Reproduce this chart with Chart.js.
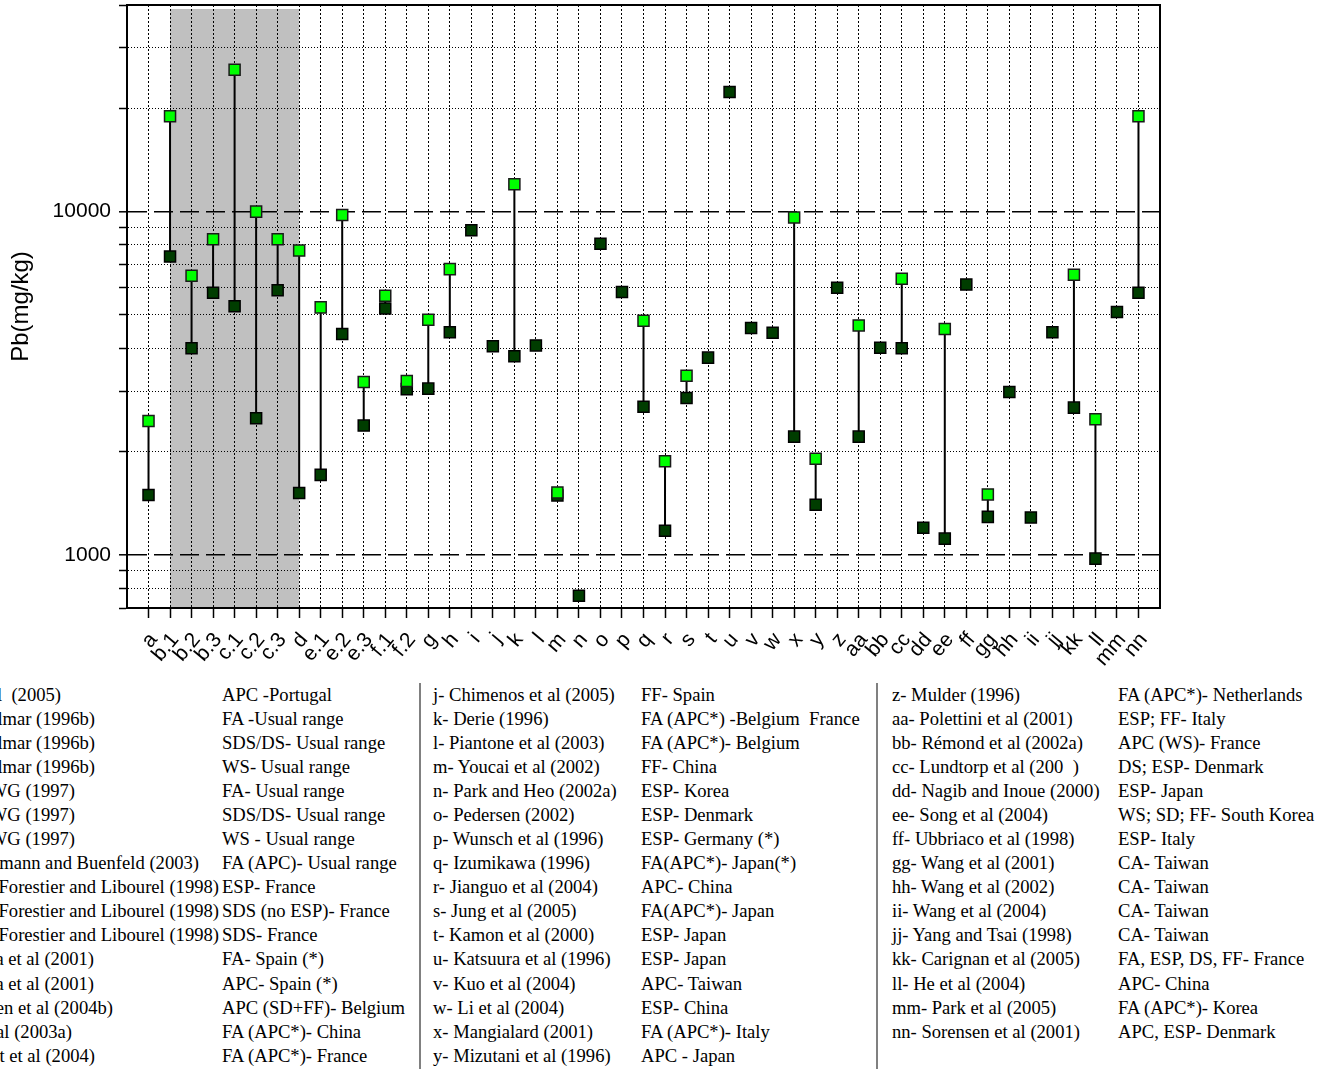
<!DOCTYPE html>
<html><head><meta charset="utf-8">
<script src="https://cdn.jsdelivr.net/npm/chart.js@4.4.1/dist/chart.umd.min.js"></script>
<style>
html,body{margin:0;padding:0;background:#fff;width:1332px;height:1069px;overflow:hidden;}
#wrap{position:relative;width:1332px;height:1069px;overflow:hidden;}
canvas{position:absolute;left:0;top:0;}
.t{position:absolute;font-family:'Liberation Serif','Times New Roman',serif;font-size:18.6px;line-height:24.07px;white-space:pre;color:#000;}
.sep{position:absolute;width:2px;background:#808080;top:683px;height:386px;}
</style></head><body><div id="wrap"><canvas id="c" width="1332" height="680"></canvas></div>
<script>
// ---- data ----
const categories = ['a','b.1','b.2','b.3','c.1','c.2','c.3','d','e.1','e.2','e.3','f.1','f.2','g','h','i','j','k','l','m','n','o','p','q','r','s','t','u','v','w','x','y','z','aa','bb','cc','dd','ee','ff','gg','hh','ii','jj','kk','ll','mm','nn'];
const lowValues = [1495,7400,4000,5800,5300,2500,5900,1515,1710,4400,2380,5220,3040,3050,4450,8820,4055,3790,4075,1490,760,8060,5830,2700,1175,2865,3755,22300,4580,4440,2210,1400,6000,2210,4015,4000,1200,1115,6135,1290,2980,1285,4450,2685,975,5100,5800];
const highValues = [2455,18960,6500,8310,25900,10000,8310,7700,5260,9780,3190,5690,3210,4840,6800,null,null,12010,null,1520,null,null,null,4810,1875,3325,null,null,null,null,9620,1905,null,4660,null,6375,null,4550,null,1500,null,null,null,6545,2485,null,18950];
const yTickValues = [700,800,900,1000,2000,3000,4000,5000,6000,7000,8000,9000,10000,20000,30000,40000];
const yLabelValues = [1000,10000];
const shadedFrom = 'b.1', shadedTo = 'd';
const yTitle = 'Pb(mg/kg)';

const refCol1 = ['a- Quina et al  (2005)','b.1- Hjelmar (1996b)','b.2- Hjelmar (1996b)','b.3- Hjelmar (1996b)','c.1- IAWG (1997)','c.2- IAWG (1997)','c.3- IAWG (1997)','d- Stegemann and Buenfeld (2003)','e.1- Le Forestier and Libourel (1998)','e.2- Le Forestier and Libourel (1998)','e.3- Le Forestier and Libourel (1998)','f.1- Alba et al (2001)','f.2- Alba et al (2001)','g- Van Gerven et al (2004b)','al (2003a)','i- Aubert et al (2004)'];
const typeCol1 = ['APC -Portugal','FA -Usual range','SDS/DS- Usual range','WS- Usual range','FA- Usual range','SDS/DS- Usual range','WS - Usual range','FA (APC)- Usual range','ESP- France','SDS (no ESP)- France','SDS- France','FA- Spain (*)','APC- Spain (*)','APC (SD+FF)- Belgium','FA (APC*)- China','FA (APC*)- France'];
const refCol2 = ['j- Chimenos et al (2005)','k- Derie (1996)','l- Piantone et al (2003)','m- Youcai et al (2002)','n- Park and Heo (2002a)','o- Pedersen (2002)','p- Wunsch et al (1996)','q- Izumikawa (1996)','r- Jianguo et al (2004)','s- Jung et al (2005)','t- Kamon et al (2000)','u- Katsuura et al (1996)','v- Kuo et al (2004)','w- Li et al (2004)','x- Mangialard (2001)','y- Mizutani et al (1996)'];
const typeCol2 = ['FF- Spain','FA (APC*) -Belgium  France','FA (APC*)- Belgium','FF- China','ESP- Korea','ESP- Denmark','ESP- Germany (*)','FA(APC*)- Japan(*)','APC- China','FA(APC*)- Japan','ESP- Japan','ESP- Japan','APC- Taiwan','ESP- China','FA (APC*)- Italy','APC - Japan'];
const refCol3 = ['z- Mulder (1996)','aa- Polettini et al (2001)','bb- Rémond et al (2002a)','cc- Lundtorp et al (200  )','dd- Nagib and Inoue (2000)','ee- Song et al (2004)','ff- Ubbriaco et al (1998)','gg- Wang et al (2001)','hh- Wang et al (2002)','ii- Wang et al (2004)','jj- Yang and Tsai (1998)','kk- Carignan et al (2005)','ll- He et al (2004)','mm- Park et al (2005)','nn- Sorensen et al (2001)'];
const typeCol3 = ['FA (APC*)- Netherlands','ESP; FF- Italy','APC (WS)- France','DS; ESP- Denmark','ESP- Japan','WS; SD; FF- South Korea','ESP- Italy','CA- Taiwan','CA- Taiwan','CA- Taiwan','CA- Taiwan','FA, ESP, DS, FF- France','APC- China','FA (APC*)- Korea','APC, ESP- Denmark'];

// ---- layout (not data) ----
const rowTop = 682.7, rowH = 24.07;
const col1RightEdges = [61,95,95,95,75,75,75,199,219,219,219,94,94,113,72,95];

const wrap = document.getElementById('wrap');
function addText(txt, i, css){
  const d = document.createElement('div');
  d.className = 't';
  d.textContent = txt;
  d.style.top = (rowTop + i*rowH) + 'px';
  Object.assign(d.style, css);
  wrap.appendChild(d);
}
refCol1.forEach((t,i)=>addText(t,i,{right:(1332-col1RightEdges[i])+'px'}));
typeCol1.forEach((t,i)=>addText(t,i,{left:'222px'}));
refCol2.forEach((t,i)=>addText(t,i,{left:'433px'}));
typeCol2.forEach((t,i)=>addText(t,i,{left:'641px'}));
refCol3.forEach((t,i)=>addText(t,i,{left:'892px'}));
typeCol3.forEach((t,i)=>addText(t,i,{left:'1118px'}));
[419,876].forEach(x=>{const s=document.createElement('div');s.className='sep';s.style.left=x+'px';wrap.appendChild(s);});

// ---- chart ----
const lowPts = categories.map((c,i)=>({x:i+1,y:lowValues[i]}));
const highPts = [];
const segPts = [];
categories.forEach((c,i)=>{
  if (highValues[i] != null) {
    highPts.push({x:i+1,y:highValues[i]});
    segPts.push({x:i+1,y:lowValues[i]},{x:i+1,y:highValues[i]},{x:i+1,y:null});
  }
});
const isMajor = v => yLabelValues.includes(v);

const bandPlugin = {
  id:'band',
  beforeDraw(chart){
    const {ctx, chartArea, scales:{x}} = chart;
    const x1 = x.getPixelForValue(categories.indexOf(shadedFrom)+1);
    const x2 = x.getPixelForValue(categories.indexOf(shadedTo)+1);
    ctx.save();
    ctx.fillStyle = '#c0c0c0';
    ctx.fillRect(x1, chartArea.top+4, x2-x1, chartArea.bottom-chartArea.top-4);
    ctx.restore();
  },
  afterDraw(chart){
    const {ctx, chartArea:a} = chart;
    ctx.save();
    ctx.strokeStyle = '#000';
    ctx.lineWidth = 2;
    ctx.strokeRect(a.left, a.top, a.right-a.left, a.bottom-a.top);
    ctx.restore();
  }
};

new Chart(document.getElementById('c'), {
  type:'scatter',
  data:{datasets:[
    {label:'high', data:highPts, pointStyle:'rect', pointRadius:7.8, pointHoverRadius:7.8,
     backgroundColor:'#00ff00', borderColor:'#1a1a1a', borderWidth:1.5, showLine:false, order:0},
    {label:'low', data:lowPts, pointStyle:'rect', pointRadius:7.8, pointHoverRadius:7.8,
     backgroundColor:'#003d00', borderColor:'#000', borderWidth:1.5, showLine:false, order:1},
    {label:'range', data:segPts, showLine:true, spanGaps:false, borderColor:'#000', borderWidth:2,
     pointRadius:0, order:2}
  ]},
  options:{
    responsive:false, animation:false, devicePixelRatio:1,
    layout:{autoPadding:false, padding:{top:5,right:172,left:0,bottom:0}},
    plugins:{legend:{display:false}, tooltip:{enabled:false}},
    scales:{
      x:{type:'linear', min:0, max:categories.length+1,
        afterBuildTicks:s=>{s.ticks = categories.map((c,i)=>({value:i+1}));},
        afterFit:s=>{s.height = 72; s.paddingLeft = 0; s.paddingRight = 0;},
        ticks:{autoSkip:false, minRotation:50, maxRotation:50, padding:10, labelOffset:5, color:'#000',
          font:{family:'Liberation Sans, Arial, sans-serif', size:21},
          callback:v=>categories[v-1]},
        grid:{color:'#000', lineWidth:1, tickLength:10, tickColor:'#000', tickWidth:1.5, tickBorderDash:[]},
        border:{display:true, color:'#000', width:2, dash:[2,2]}
      },
      y:{type:'logarithmic', min:700, max:40000,
        afterBuildTicks:s=>{s.ticks = yTickValues.map(v=>({value:v, major:isMajor(v)}));},
        afterFit:s=>{s.width = 127; s.paddingTop = 0; s.paddingBottom = 0;},
        ticks:{padding:8, color:'#000', font:{family:'Liberation Sans, Arial, sans-serif', size:21},
          callback:v=>isMajor(v)?String(v):''},
        title:{display:true, text:yTitle, color:'#000', font:{family:'Liberation Sans, Arial, sans-serif', size:24}, padding:{top:7,bottom:0}},
        grid:{color:'#000', lineWidth:c=>(c.tick && isMajor(c.tick.value))?1.6:1, tickLength:8, tickColor:'#000', tickWidth:1.5, tickBorderDash:[]},
        border:{display:true, color:'#000', width:2, dash:c=>(c.tick && isMajor(c.tick.value))?[19,7]:[1,2]}
      }
    }
  },
  plugins:[bandPlugin]
});
</script></body></html>
